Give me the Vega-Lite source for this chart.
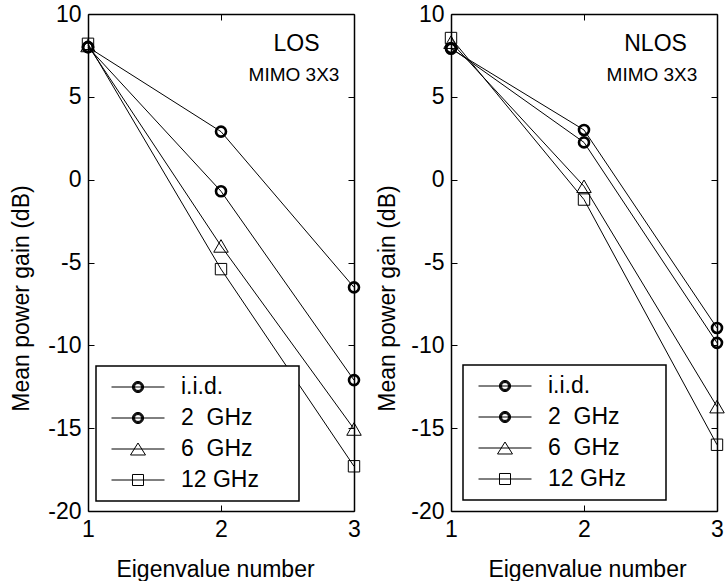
{
  "$schema": "https://vega.github.io/schema/vega-lite/v6.json",
  "background": "white",
  "padding": {"left": 10, "top": 3, "right": 0, "bottom": 0},
  "bounds": "flush",
  "spacing": 97,
  "resolve": {"scale": {"shape": "independent"}, "legend": {"shape": "independent"}},
  "config": {
    "view": {"stroke": null},
    "font": "Liberation Sans",
    "axis": {
      "domainColor": "black", "domainWidth": 1.5,
      "tickColor": "black", "tickWidth": 1, "tickSize": -6,
      "labelColor": "black", "labelFont": "Liberation Sans", "labelFontSize": 23, "labelPadding": 13, "labelFlush": false,
      "labelExpr": "'' + datum.value",
      "titleFont": "Liberation Sans", "titleFontSize": 23, "titleFontWeight": "normal", "titleColor": "black",
      "grid": false
    },
    "legend": {
      "orient": "none", "padding": 8, "strokeColor": "black", "strokeWidth": 1.5, "fillColor": "white",
      "symbolSize": 2809, "symbolStrokeColor": "black", "symbolStrokeWidth": 1, "symbolFillColor": "transparent", "symbolOpacity": 1,
      "clipHeight": 26, "rowPadding": 5, "symbolOffset": 7, "labelOffset": 16,
      "labelFontSize": 23, "labelFont": "Liberation Sans", "labelColor": "black", "cornerRadius": 0
    }
  },
  "datasets": {
    "los": [
      {"eig": 1, "gain": 8.0, "series": "i.i.d."},
      {"eig": 2, "gain": 2.9, "series": "i.i.d."},
      {"eig": 3, "gain": -6.5, "series": "i.i.d."},
      {"eig": 1, "gain": 8.0, "series": "2 GHz"},
      {"eig": 2, "gain": -0.7, "series": "2 GHz"},
      {"eig": 3, "gain": -12.1, "series": "2 GHz"},
      {"eig": 1, "gain": 8.1, "series": "6 GHz"},
      {"eig": 2, "gain": -4.0, "series": "6 GHz"},
      {"eig": 3, "gain": -15.05, "series": "6 GHz"},
      {"eig": 1, "gain": 8.2, "series": "12 GHz"},
      {"eig": 2, "gain": -5.4, "series": "12 GHz"},
      {"eig": 3, "gain": -17.3, "series": "12 GHz"}
    ],
    "nlos": [
      {"eig": 1, "gain": 7.9, "series": "i.i.d."},
      {"eig": 2, "gain": 3.0, "series": "i.i.d."},
      {"eig": 3, "gain": -8.95, "series": "i.i.d."},
      {"eig": 1, "gain": 7.95, "series": "2 GHz"},
      {"eig": 2, "gain": 2.25, "series": "2 GHz"},
      {"eig": 3, "gain": -9.85, "series": "2 GHz"},
      {"eig": 1, "gain": 8.3, "series": "6 GHz"},
      {"eig": 2, "gain": -0.4, "series": "6 GHz"},
      {"eig": 3, "gain": -13.7, "series": "6 GHz"},
      {"eig": 1, "gain": 8.55, "series": "12 GHz"},
      {"eig": 2, "gain": -1.2, "series": "12 GHz"},
      {"eig": 3, "gain": -16.0, "series": "12 GHz"}
    ]
  },
  "hconcat": [
    {
      "width": 266, "height": 497,
      "data": {"name": "los"},
      "layer": [
        {
          "mark": {"type": "line", "color": "black", "strokeWidth": 1},
          "encoding": {
            "x": {"field": "eig", "type": "quantitative", "scale": {"domain": [1, 3], "nice": false, "zero": false},
                  "axis": {"values": [1, 2, 3], "title": "Eigenvalue number", "titleX": 127, "titleY": 58, "titleBaseline": "middle"}},
            "y": {"field": "gain", "type": "quantitative", "scale": {"domain": [-20, 10], "nice": false, "zero": false},
                  "axis": {"values": [-20, -15, -10, -5, 0, 5, 10], "title": "Mean power gain (dB)", "titleX": -67, "titleY": 284, "titleBaseline": "middle", "titleAngle": -90}},
            "detail": {"field": "series", "type": "nominal"}
          }
        },
        {
          "transform": [{"filter": "datum.series == 'i.i.d.' || datum.series == '2 GHz'"}],
          "mark": {"type": "point", "shape": "circle", "size": 100, "color": "black", "strokeWidth": 2.6, "filled": false, "opacity": 1},
          "encoding": {
            "x": {"field": "eig", "type": "quantitative", "scale": {"domain": [1, 3], "nice": false, "zero": false}, "axis": null},
            "y": {"field": "gain", "type": "quantitative", "scale": {"domain": [-20, 10], "nice": false, "zero": false}, "axis": null}
          }
        },
        {
          "transform": [{"filter": "datum.series == '6 GHz'"}],
          "mark": {"type": "point", "shape": "triangle-up", "size": 210, "color": "black", "strokeWidth": 1, "filled": false, "opacity": 1},
          "encoding": {
            "x": {"field": "eig", "type": "quantitative", "scale": {"domain": [1, 3], "nice": false, "zero": false}, "axis": null},
            "y": {"field": "gain", "type": "quantitative", "scale": {"domain": [-20, 10], "nice": false, "zero": false}, "axis": null}
          }
        },
        {
          "transform": [{"filter": "datum.series == '12 GHz'"}],
          "mark": {"type": "point", "shape": "square", "size": 130, "color": "black", "strokeWidth": 1, "filled": false, "opacity": 1},
          "encoding": {
            "x": {"field": "eig", "type": "quantitative", "scale": {"domain": [1, 3], "nice": false, "zero": false}, "axis": null},
            "y": {"field": "gain", "type": "quantitative", "scale": {"domain": [-20, 10], "nice": false, "zero": false}, "axis": null}
          }
        },
        {
          "data": {"values": [{"tx": 2.568, "ty": 8.2, "label": "LOS"}]},
          "mark": {"type": "text", "font": "Liberation Sans", "fontSize": 23, "color": "black", "align": "center", "baseline": "middle"},
          "encoding": {
            "x": {"field": "tx", "type": "quantitative", "scale": {"domain": [1, 3], "nice": false, "zero": false}, "axis": null},
            "y": {"field": "ty", "type": "quantitative", "scale": {"domain": [-20, 10], "nice": false, "zero": false}, "axis": null},
            "text": {"field": "label"}
          }
        },
        {
          "data": {"values": [{"tx": 2.549, "ty": 6.32, "label": "MIMO 3X3"}]},
          "mark": {"type": "text", "font": "Liberation Sans", "fontSize": 19, "color": "black", "align": "center", "baseline": "middle"},
          "encoding": {
            "x": {"field": "tx", "type": "quantitative", "scale": {"domain": [1, 3], "nice": false, "zero": false}, "axis": null},
            "y": {"field": "ty", "type": "quantitative", "scale": {"domain": [-20, 10], "nice": false, "zero": false}, "axis": null},
            "text": {"field": "label"}
          }
        },
        {
          "transform": [{"filter": "datum.eig > 100"}],
          "mark": {"type": "point", "color": "black", "strokeWidth": 1, "filled": false, "opacity": 1},
          "encoding": {
            "x": {"field": "eig", "type": "quantitative", "scale": {"domain": [1, 3], "nice": false, "zero": false},
                  "axis": {"orient": "top", "labels": false, "title": null, "values": [1, 2, 3]}},
            "y": {"field": "gain", "type": "quantitative", "scale": {"domain": [-20, 10], "nice": false, "zero": false},
                  "axis": {"orient": "right", "labels": false, "title": null, "values": [-20, -15, -10, -5, 0, 5, 10]}},
            "shape": {"field": "series", "type": "nominal",
              "scale": {"domain": ["i.i.d.", "2 GHz", "6 GHz", "12 GHz"],
                "range": [
                  "M-1 0H1M0.21 0A0.21 0.21 0 1 1 -0.21 0A0.21 0.21 0 1 1 0.21 0M0.19 0A0.19 0.19 0 1 1 -0.19 0A0.19 0.19 0 1 1 0.19 0M0.17 0A0.17 0.17 0 1 1 -0.17 0A0.17 0.17 0 1 1 0.17 0M0.15 0A0.15 0.15 0 1 1 -0.15 0A0.15 0.15 0 1 1 0.15 0M0.13 0A0.13 0.13 0 1 1 -0.13 0A0.13 0.13 0 1 1 0.13 0",
                  "M-1 0H1M0.21 0A0.21 0.21 0 1 1 -0.21 0A0.21 0.21 0 1 1 0.21 0M0.19 0A0.19 0.19 0 1 1 -0.19 0A0.19 0.19 0 1 1 0.19 0M0.17 0A0.17 0.17 0 1 1 -0.17 0A0.17 0.17 0 1 1 0.17 0M0.15 0A0.15 0.15 0 1 1 -0.15 0A0.15 0.15 0 1 1 0.15 0M0.13 0A0.13 0.13 0 1 1 -0.13 0A0.13 0.13 0 1 1 0.13 0",
                  "M-1 0H1M0 -0.226L0.283 0.226L-0.283 0.226Z",
                  "M-1 0H1M-0.208 -0.208H0.208V0.208H-0.208Z"
                ]},
              "legend": {"title": null, "legendX": 8, "legendY": 352,
                "labelExpr": "(datum.label === '2 GHz' || datum.label === '6 GHz' ? replace(datum.label, ' ', '\u00a0\u00a0') : datum.label) + '\u00a0\u00a0\u00a0\u00a0\u00a0\u200b'"}
            }
          }
        }
      ],
      "resolve": {"axis": {"x": "independent", "y": "independent"}}
    },
    {
      "width": 266, "height": 497,
      "data": {"name": "nlos"},
      "layer": [
        {
          "mark": {"type": "line", "color": "black", "strokeWidth": 1},
          "encoding": {
            "x": {"field": "eig", "type": "quantitative", "scale": {"domain": [1, 3], "nice": false, "zero": false},
                  "axis": {"values": [1, 2, 3], "title": "Eigenvalue number", "titleX": 136, "titleY": 58, "titleBaseline": "middle"}},
            "y": {"field": "gain", "type": "quantitative", "scale": {"domain": [-20, 10], "nice": false, "zero": false},
                  "axis": {"values": [-20, -15, -10, -5, 0, 5, 10], "title": "Mean power gain (dB)", "titleX": -64, "titleY": 284, "titleBaseline": "middle", "titleAngle": -90}},
            "detail": {"field": "series", "type": "nominal"}
          }
        },
        {
          "transform": [{"filter": "datum.series == 'i.i.d.' || datum.series == '2 GHz'"}],
          "mark": {"type": "point", "shape": "circle", "size": 100, "color": "black", "strokeWidth": 2.6, "filled": false, "opacity": 1},
          "encoding": {
            "x": {"field": "eig", "type": "quantitative", "scale": {"domain": [1, 3], "nice": false, "zero": false}, "axis": null},
            "y": {"field": "gain", "type": "quantitative", "scale": {"domain": [-20, 10], "nice": false, "zero": false}, "axis": null}
          }
        },
        {
          "transform": [{"filter": "datum.series == '6 GHz'"}],
          "mark": {"type": "point", "shape": "triangle-up", "size": 210, "color": "black", "strokeWidth": 1, "filled": false, "opacity": 1},
          "encoding": {
            "x": {"field": "eig", "type": "quantitative", "scale": {"domain": [1, 3], "nice": false, "zero": false}, "axis": null},
            "y": {"field": "gain", "type": "quantitative", "scale": {"domain": [-20, 10], "nice": false, "zero": false}, "axis": null}
          }
        },
        {
          "transform": [{"filter": "datum.series == '12 GHz'"}],
          "mark": {"type": "point", "shape": "square", "size": 130, "color": "black", "strokeWidth": 1, "filled": false, "opacity": 1},
          "encoding": {
            "x": {"field": "eig", "type": "quantitative", "scale": {"domain": [1, 3], "nice": false, "zero": false}, "axis": null},
            "y": {"field": "gain", "type": "quantitative", "scale": {"domain": [-20, 10], "nice": false, "zero": false}, "axis": null}
          }
        },
        {
          "data": {"values": [{"tx": 2.538, "ty": 8.2, "label": "NLOS"}]},
          "mark": {"type": "text", "font": "Liberation Sans", "fontSize": 23, "color": "black", "align": "center", "baseline": "middle"},
          "encoding": {
            "x": {"field": "tx", "type": "quantitative", "scale": {"domain": [1, 3], "nice": false, "zero": false}, "axis": null},
            "y": {"field": "ty", "type": "quantitative", "scale": {"domain": [-20, 10], "nice": false, "zero": false}, "axis": null},
            "text": {"field": "label"}
          }
        },
        {
          "data": {"values": [{"tx": 2.511, "ty": 6.32, "label": "MIMO 3X3"}]},
          "mark": {"type": "text", "font": "Liberation Sans", "fontSize": 19, "color": "black", "align": "center", "baseline": "middle"},
          "encoding": {
            "x": {"field": "tx", "type": "quantitative", "scale": {"domain": [1, 3], "nice": false, "zero": false}, "axis": null},
            "y": {"field": "ty", "type": "quantitative", "scale": {"domain": [-20, 10], "nice": false, "zero": false}, "axis": null},
            "text": {"field": "label"}
          }
        },
        {
          "transform": [{"filter": "datum.eig > 100"}],
          "mark": {"type": "point", "color": "black", "strokeWidth": 1, "filled": false, "opacity": 1},
          "encoding": {
            "x": {"field": "eig", "type": "quantitative", "scale": {"domain": [1, 3], "nice": false, "zero": false},
                  "axis": {"orient": "top", "labels": false, "title": null, "values": [1, 2, 3]}},
            "y": {"field": "gain", "type": "quantitative", "scale": {"domain": [-20, 10], "nice": false, "zero": false},
                  "axis": {"orient": "right", "labels": false, "title": null, "values": [-20, -15, -10, -5, 0, 5, 10]}},
            "shape": {"field": "series", "type": "nominal",
              "scale": {"domain": ["i.i.d.", "2 GHz", "6 GHz", "12 GHz"],
                "range": [
                  "M-1 0H1M0.21 0A0.21 0.21 0 1 1 -0.21 0A0.21 0.21 0 1 1 0.21 0M0.19 0A0.19 0.19 0 1 1 -0.19 0A0.19 0.19 0 1 1 0.19 0M0.17 0A0.17 0.17 0 1 1 -0.17 0A0.17 0.17 0 1 1 0.17 0M0.15 0A0.15 0.15 0 1 1 -0.15 0A0.15 0.15 0 1 1 0.15 0M0.13 0A0.13 0.13 0 1 1 -0.13 0A0.13 0.13 0 1 1 0.13 0",
                  "M-1 0H1M0.21 0A0.21 0.21 0 1 1 -0.21 0A0.21 0.21 0 1 1 0.21 0M0.19 0A0.19 0.19 0 1 1 -0.19 0A0.19 0.19 0 1 1 0.19 0M0.17 0A0.17 0.17 0 1 1 -0.17 0A0.17 0.17 0 1 1 0.17 0M0.15 0A0.15 0.15 0 1 1 -0.15 0A0.15 0.15 0 1 1 0.15 0M0.13 0A0.13 0.13 0 1 1 -0.13 0A0.13 0.13 0 1 1 0.13 0",
                  "M-1 0H1M0 -0.226L0.283 0.226L-0.283 0.226Z",
                  "M-1 0H1M-0.208 -0.208H0.208V0.208H-0.208Z"
                ]},
              "legend": {"title": null, "legendX": 12, "legendY": 351,
                "labelExpr": "(datum.label === '2 GHz' || datum.label === '6 GHz' ? replace(datum.label, ' ', '\u00a0\u00a0') : datum.label) + '\u00a0\u00a0\u00a0\u00a0\u00a0\u200b'"}
            }
          }
        }
      ],
      "resolve": {"axis": {"x": "independent", "y": "independent"}}
    }
  ]
}
